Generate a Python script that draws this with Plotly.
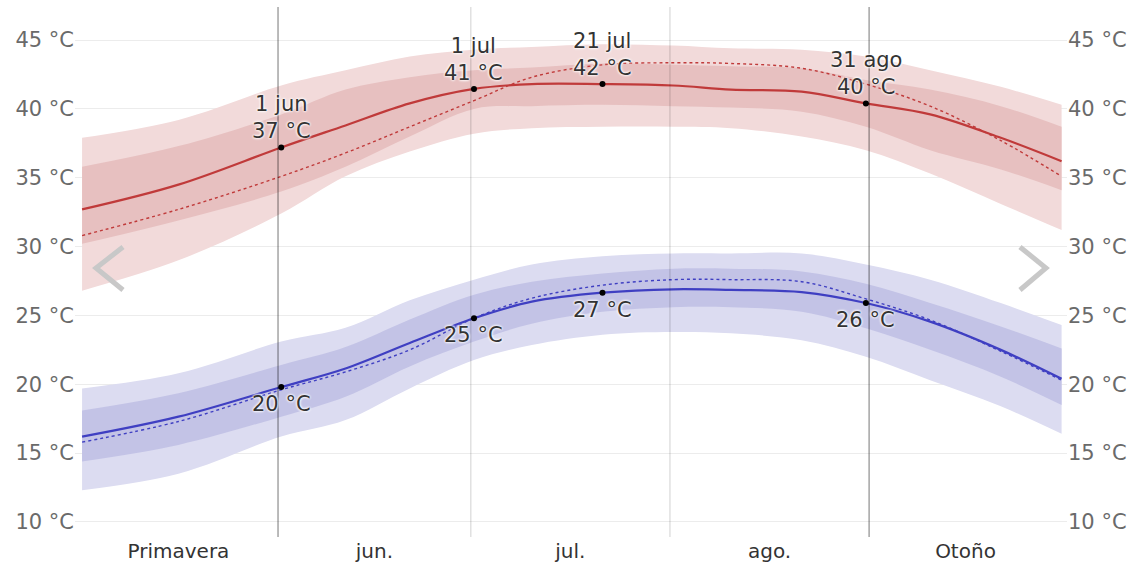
import plotly.graph_objects as go

# ---- data ----
dates = ["2023-05-01 12:00", "2023-05-16 12:00", "2023-06-01 12:00", "2023-06-11 12:00",
         "2023-06-21 12:00", "2023-07-01 12:00", "2023-07-10 12:00", "2023-07-21 12:00",
         "2023-08-01 12:00", "2023-08-10 12:00", "2023-08-21 12:00", "2023-08-31 12:00",
         "2023-09-10 12:00", "2023-09-21 12:00", "2023-09-30 23:00"]

high_p90 = [37.9, 39.2, 41.7, 42.8, 43.8, 44.3, 44.5, 44.7, 44.6, 44.4, 44.3, 43.8, 42.8, 41.6, 40.3]
high_p75 = [35.8, 37.3, 39.6, 41.4, 42.3, 42.8, 43.0, 43.3, 43.2, 43.1, 42.95, 42.1, 41.4, 40.2, 38.7]
high_avg = [32.7, 34.5, 37.2, 38.8, 40.4, 41.45, 41.8, 41.8, 41.7, 41.4, 41.25, 40.4, 39.6, 37.9, 36.2]
high_feel = [30.8, 32.7, 35.1, 36.8, 38.7, 40.6, 42.3, 43.2, 43.35, 43.3, 42.95, 41.8, 40.2, 37.7, 35.1]
high_p25 = [30.2, 31.9, 34.0, 35.8, 38.0, 40.0, 40.2, 40.3, 40.2, 40.1, 39.8, 38.7, 37.0, 35.6, 34.1]
high_p10 = [26.8, 29.0, 32.4, 35.1, 36.9, 38.2, 38.6, 38.7, 38.7, 38.6, 38.0, 37.0, 35.3, 33.1, 31.2]

low_p90 = [19.7, 20.8, 23.1, 24.1, 26.1, 27.6, 28.7, 29.3, 29.5, 29.5, 29.5, 28.7, 27.6, 25.9, 24.3]
low_p75 = [18.1, 19.35, 21.4, 22.7, 24.7, 26.5, 27.45, 28.05, 28.4, 28.4, 28.2, 27.3, 25.9, 24.2, 22.6]
low_avg = [16.2, 17.65, 19.8, 21.15, 23.0, 24.8, 26.0, 26.65, 26.9, 26.85, 26.7, 25.9, 24.55, 22.5, 20.4]
low_feel = [15.8, 17.3, 19.6, 20.9, 22.5, 24.8, 26.25, 27.2, 27.6, 27.6, 27.45, 26.2, 24.67, 22.4, 20.3]
low_p25 = [14.4, 15.6, 17.65, 19.1, 21.3, 23.1, 24.4, 25.27, 25.6, 25.6, 25.27, 24.07, 22.5, 20.55, 18.5]
low_p10 = [12.3, 13.5, 16.2, 17.4, 19.7, 21.76, 22.85, 23.6, 23.8, 23.7, 23.2, 22.0, 20.3, 18.4, 16.4]

marked_idx = [2, 5, 7, 11]
marked_names = ["1 jun", "1 jul", "21 jul", "31 ago"]

period_ticks = ["2023-05-16 12:00", "2023-06-16", "2023-07-16 12:00", "2023-08-16 12:00", "2023-09-16"]
period_labels = ["Primavera", "jun.", "jul.", "ago.", "Otoño"]
dark_lines = ["2023-06-01", "2023-09-01"]
light_lines = ["2023-07-01", "2023-08-01"]

y_ticks = [10, 15, 20, 25, 30, 35, 40, 45]
y_labels = [f"{v} °C" for v in y_ticks]
y_range = [8.91, 47.4]
x_range = ["2023-04-30 09:36", "2023-10-01 19:12"]

FONT = "DejaVu Sans"
FS = 21
RED_OUT, RED_IN, RED_LINE = "#f2dada", "#e7c0c0", "#c03a3a"
BLUE_OUT, BLUE_IN, BLUE_LINE = "#dcdcf1", "#c3c3e6", "#3f3fc2"
SMOOTH = 1.0

fig = go.Figure()


def band(lo, hi, color):
    fig.add_trace(go.Scatter(x=dates, y=lo, mode="lines", line=dict(width=0, shape="spline", smoothing=SMOOTH),
                             hoverinfo="skip", showlegend=False))
    fig.add_trace(go.Scatter(x=dates, y=hi, mode="lines", line=dict(width=0, shape="spline", smoothing=SMOOTH),
                             fill="tonexty", fillcolor=color, hoverinfo="skip", showlegend=False))


band(high_p10, high_p90, RED_OUT)
band(high_p25, high_p75, RED_IN)
band(low_p10, low_p90, BLUE_OUT)
band(low_p25, low_p75, BLUE_IN)

for ys, col, dash, w in [(high_feel, RED_LINE, "dot", 1.4), (high_avg, RED_LINE, "solid", 2.2),
                         (low_feel, BLUE_LINE, "dot", 1.4), (low_avg, BLUE_LINE, "solid", 2.2)]:
    fig.add_trace(go.Scatter(x=dates, y=ys, mode="lines",
                             line=dict(color=col, width=w, dash=dash, shape="spline", smoothing=SMOOTH),
                             showlegend=False, hoverinfo="skip"))

# marked points
mx = [dates[i] for i in marked_idx]
fig.add_trace(go.Scatter(x=mx + mx, y=[high_avg[i] for i in marked_idx] + [low_avg[i] for i in marked_idx],
                         mode="markers", marker=dict(color="black", size=6), showlegend=False, hoverinfo="skip"))

# invisible trace so the right-hand axis is drawn
fig.add_trace(go.Scatter(x=dates, y=low_avg, yaxis="y2", mode="lines", line=dict(width=0),
                         opacity=0, showlegend=False, hoverinfo="skip"))

halo = "0 0 3px white, 0 0 3px white, 0 0 2px white"
for i, name in zip(marked_idx, marked_names):
    fig.add_annotation(x=dates[i], y=high_avg[i], text=f"{name}<br>{round(high_avg[i])} °C",
                       showarrow=False, yanchor="bottom", yshift=2,
                       font=dict(family=FONT, size=FS, color="#333333", shadow=halo))
    fig.add_annotation(x=dates[i], y=low_avg[i], text=f"{round(low_avg[i])} °C",
                       showarrow=False, yanchor="top", yshift=-3,
                       font=dict(family=FONT, size=FS, color="#333333", shadow=halo))

shapes = []
for d in dark_lines:
    shapes.append(dict(type="line", xref="x", yref="paper", x0=d, x1=d, y0=0, y1=1,
                       line=dict(color="rgba(0,0,0,0.36)", width=1.5), layer="above"))
for d in light_lines:
    shapes.append(dict(type="line", xref="x", yref="paper", x0=d, x1=d, y0=0, y1=1,
                       line=dict(color="rgba(0,0,0,0.12)", width=1.5), layer="above"))
# navigation chevrons
shapes.append(dict(type="path", xref="paper", yref="paper",
                   path="M 0.0484 0.5472 L 0.0212 0.5075 L 0.0484 0.4660",
                   line=dict(color="#c8c8c8", width=5)))
shapes.append(dict(type="path", xref="paper", yref="paper",
                   path="M 0.9526 0.5472 L 0.9788 0.5075 L 0.9526 0.4660",
                   line=dict(color="#c8c8c8", width=5)))

fig.update_layout(
    width=1138, height=562,
    margin=dict(l=75, r=71, t=7, b=25),
    paper_bgcolor="white", plot_bgcolor="white",
    font=dict(family=FONT, size=FS, color="#666666"),
    showlegend=False,
    shapes=shapes,
    xaxis=dict(type="date", range=x_range, tickmode="array", tickvals=period_ticks, ticktext=period_labels,
               showgrid=False, zeroline=False, showline=False, ticks="", automargin=False,
               tickfont=dict(family=FONT, size=FS - 1, color="#333333")),
    yaxis=dict(range=y_range, tickmode="array", tickvals=y_ticks, ticktext=y_labels, showgrid=True,
               gridcolor="#ececec", gridwidth=1, zeroline=False, showline=False, ticks="", automargin=False,
               tickfont=dict(family=FONT, size=FS, color="#6a6a6a")),
    yaxis2=dict(range=y_range, tickmode="array", tickvals=y_ticks, ticktext=y_labels, overlaying="y",
                side="right", showgrid=False, zeroline=False, showline=False, ticks="", automargin=False,
                tickfont=dict(family=FONT, size=FS, color="#6a6a6a")),
)

fig.write_html("out.html", config={"displayModeBar": False},
               post_script="document.body.style.margin='0';")
